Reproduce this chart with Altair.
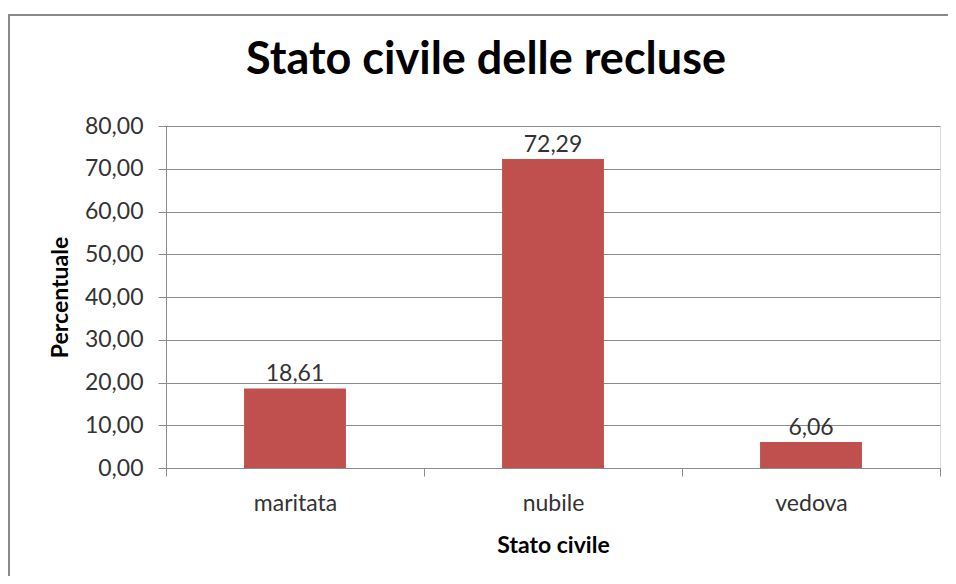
import altair as alt
import pandas as pd

categories = ["maritata", "nubile", "vedova"]
values = [18.61, 72.29, 6.06]
y_ticks = [0, 10, 20, 30, 40, 50, 60, 70, 80]

df = pd.DataFrame({"stato": categories, "perc": values})

FONT = "Lato"
BAR = "#C0504D"
GRID = "#8C8C8C"
TXT = "#333333"

frame_left = alt.Chart(df).mark_rule(
    stroke="#8A8A8A", strokeWidth=2
).encode(
    x=alt.value(-157), y=alt.value(-112), y2=alt.value(450)
)
frame_top = alt.Chart(df).mark_rule(
    stroke="#8A8A8A", strokeWidth=2
).encode(
    x=alt.value(-158), x2=alt.value(782), y=alt.value(-111)
)

x_enc = alt.X(
    "stato:N", sort=categories,
    scale=alt.Scale(paddingInner=0, paddingOuter=0),
    axis=alt.Axis(
        title="Stato civile", labelAngle=0, tickBand="extent",
        tickSize=8, labelPadding=16, labelFontSize=23, labelFont=FONT,
        labelColor=TXT, titleFont=FONT, titleFontSize=23, titleFontWeight="bold",
        titleColor="black", titleBaseline="alphabetic", titleY=84,
        domainColor=GRID, tickColor=GRID, grid=False
    )
)
y_enc = alt.Y(
    "perc:Q",
    scale=alt.Scale(domain=[0, 80], nice=False),
    axis=alt.Axis(
        title="Percentuale", values=y_ticks,
        labelExpr="replace(format(datum.value, '.2f'), '.', ',')",
        tickSize=8, labelPadding=15, labelFontSize=23, labelFont=FONT,
        labelColor=TXT, titleFont=FONT, titleFontSize=23, titleFontWeight="bold",
        titleColor="black", titleBaseline="alphabetic", titleX=-99, titleY=171,
        titleAngle=-90, titleAlign="center",
        domainColor=GRID, tickColor=GRID, gridColor=GRID, grid=True
    )
)

bars = alt.Chart(df).mark_bar(
    color=BAR, width=alt.RelativeBandSize(0.395)
).encode(x=x_enc, y=y_enc)

labels = alt.Chart(df).transform_calculate(
    lab="replace(format(datum.perc, '.2f'), '.', ',')"
).mark_text(
    baseline="alphabetic", dy=-7, fontSize=23, font=FONT, color=TXT
).encode(
    x=alt.X("stato:N", sort=categories),
    y="perc:Q",
    text="lab:N"
)

chart = alt.layer(frame_left, frame_top, bars, labels).properties(
    width=774, height=342,
    padding={"left": 158, "top": 118, "right": 8, "bottom": 108},
    autosize=alt.AutoSizeParams(type="none"),
    title=alt.Title(
        "Stato civile delle recluse", font=FONT, fontSize=45,
        fontWeight="bold", color="black", anchor="middle", dx=-67,
        baseline="alphabetic", offset=-106
    )
).configure_view(stroke=None).configure(background="white")

chart.save("out.html", embed_options={"renderer": "svg", "actions": False})
